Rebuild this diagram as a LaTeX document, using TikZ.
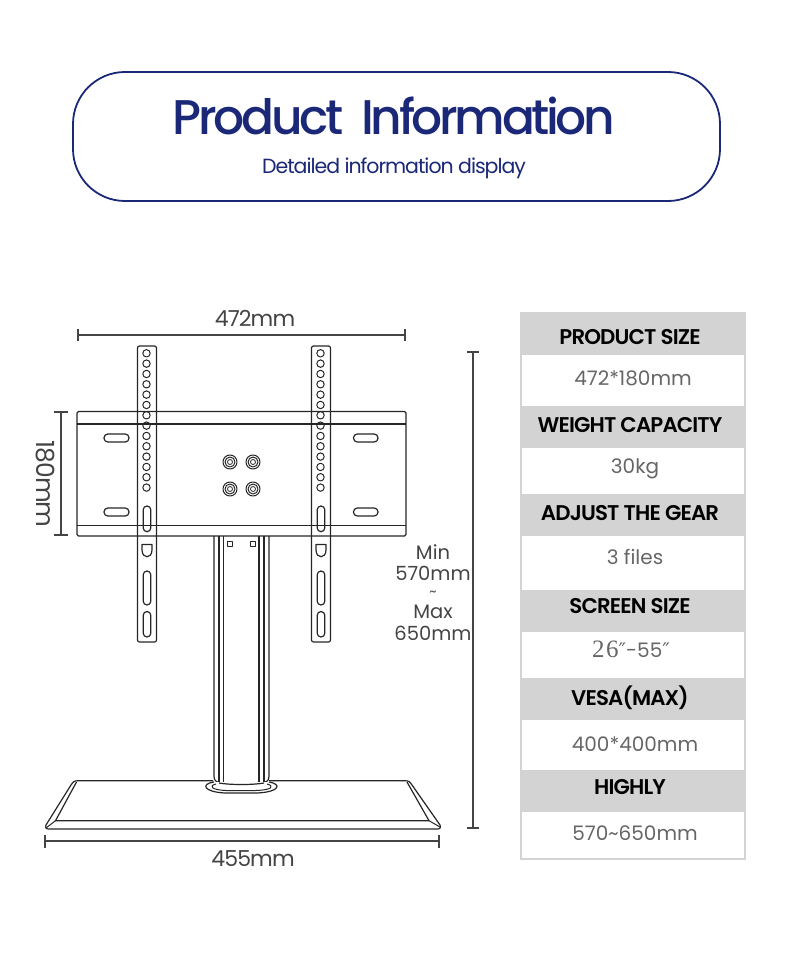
\documentclass[tikz,border=0pt]{standalone}
\usepackage{fontspec}
\setmainfont{Poppins}
\newfontfamily\mediumfont{Poppins Medium}
\newfontfamily\semiboldfont{Poppins SemiBold}
\newfontfamily\serifdigits{Liberation Serif}
\newfontfamily\primefont{DejaVu Sans}
\definecolor{navyblue}{HTML}{1B2878}
\definecolor{dimgray}{HTML}{444444}
\definecolor{valuegray}{HTML}{666666}
\definecolor{bandgray}{HTML}{D3D3D3}
\tikzset{
  part/.style={draw=black!85, line width=1.2pt, line join=round},
  dimline/.style={draw=dimgray, line width=1.8pt},
  dimtext/.style={text=dimgray, inner sep=0pt, font=\fontsize{22}{22}\selectfont\addfontfeatures{LetterSpace=-4}},
  sidetext/.style={text=dimgray, inner sep=0pt, font=\fontsize{19.5}{19.5}\selectfont},
  headtext/.style={text=black, inner sep=0pt, font=\semiboldfont\fontsize{21.3}{21.3}\selectfont\addfontfeatures{LetterSpace=-4}},
  valuetext/.style={text=valuegray, inner sep=0pt, font=\fontsize{20}{20}\selectfont},
}
\begin{document}
\begin{tikzpicture}[x=1pt, y=-1pt]
    \useasboundingbox (0,0) rectangle (784,960);

    % Title banner
    \draw[draw=navyblue, line width=1.8pt, rounded corners=52] (73,72) rectangle (720,201);
    \node[text=navyblue, inner sep=0pt, font=\mediumfont\fontsize{48.7}{48.7}\selectfont\addfontfeatures{LetterSpace=-7}] (title) at (394,116) {Product\hspace{9pt} Information};
    \node[text=navyblue, inner sep=0pt, font=\fontsize{20.5}{20.5}\selectfont\addfontfeatures{LetterSpace=-5}] (subtitle) at (394,168) {Detailed information display};

    % Width of the cross bar
    \coordinate (widthL) at (78,335);
    \coordinate (widthR) at (405,335);
    \draw[dimline] (widthL) -- (widthR);
    \draw[dimline] (78,329) -- (78,341);
    \draw[dimline] (405,329) -- (405,341);
    \node[dimtext] (widthtext) at (255,318) {472mm};

    % Height of the cross bar
    \coordinate (barT) at (61,412);
    \coordinate (barB) at (61,535);
    \draw[dimline] (barT) -- (barB);
    \draw[dimline] (54,412) -- (68,412);
    \draw[dimline] (54,535) -- (68,535);
    \node[dimtext, rotate=-90, font=\fontsize{25}{25}\selectfont\addfontfeatures{LetterSpace=-4}] (bartext) at (45,484) {180mm};

    % Cross bar
    \draw[part, rounded corners=1.5] (77,411.5) rectangle (406,536);
    \draw[part] (77,424) -- (406,424);
    \draw[part] (77,525.5) -- (406,525.5);

    % Slots in the cross bar
    \draw[part, rounded corners=3.8] (104,434) rectangle (129,442);
    \draw[part, rounded corners=3.8] (104,508) rectangle (129,516);
    \draw[part, rounded corners=3.8] (353.5,434) rectangle (378,442);
    \draw[part, rounded corners=3.8] (353.5,508) rectangle (378,516);

    % Bolts in the middle
    \foreach \bx/\by in {230/462, 253/462, 230/489, 253/489} {
        \draw[part, line width=1pt] (\bx,\by) circle (7);
        \draw[part, line width=1pt] (\bx,\by) circle (5);
        \draw[part, line width=.8pt] (\bx,\by) circle (2.5);
    }

    % Two upright brackets
    \foreach \cx in {147,321} {
        \draw[part, rounded corners=2] (\cx-9.5,346) rectangle (\cx+9.5,642);
        \foreach \n in {0,...,13}
            \draw[part, line width=1pt] (\cx-.5,353.3+10.33*\n) circle (3.7);
        \draw[part, rounded corners=3.8] (\cx-3.8,506) rectangle (\cx+3.8,531.7);
        \draw[part] (\cx-5,544.5) -- (\cx+5,544.5) -- (\cx+5,550) .. controls (\cx+5,555) and (\cx+2,556.7) .. (\cx,556.7) .. controls (\cx-2,556.7) and (\cx-5,555) .. (\cx-5,550) -- cycle;
        \draw[part, rounded corners=3.8] (\cx-3.8,571) rectangle (\cx+3.8,605);
        \draw[part, rounded corners=3.8] (\cx-3.8,611.5) rectangle (\cx+3.8,637);
    }

    % Column
    \draw[part] (214,536) -- (214,776) .. controls (214,780) and (216,782) .. (219,783);
    \draw[part] (219,536) -- (219,783);
    \draw[part] (223.5,536) -- (223.5,784);
    \draw[part] (259,536) -- (259,784);
    \draw[part] (264,536) -- (264,783);
    \draw[part] (269,536) -- (269,776) .. controls (269,780) and (267,782) .. (264,783);
    \draw[part] (219,783) .. controls (230,785) and (253,785) .. (264,783);
    \draw[part, line width=1pt] (227.5,541.5) rectangle (232.5,546.5);
    \draw[part, line width=1pt] (250.5,541.5) rectangle (255.5,546.5);

    % Base plate
    \draw[part] (213,780.7) -- (78,780.7) .. controls (74,780.7) and (73,782) .. (71,785) -- (46,825) .. controls (45,828) and (46,829) .. (49,829) -- (437,829) .. controls (440,829) and (441,828) .. (440,825) -- (412,785) .. controls (410,782) and (409,780.7) .. (405,780.7) -- (269,780.7);
    \draw[part] (76.5,782) -- (55.5,820.7) -- (429,820.7) -- (407,782);
    \draw[part, line width=1pt] (46,828) -- (55.5,820.7);
    \draw[part, line width=1pt] (440,827) -- (429,820.7);

    % Collar round the column
    \draw[part, fill=white] (214,782) .. controls (200,784) and (204,792) .. (225,793) -- (257,793) .. controls (280,792) and (282,784) .. (269,782);
    \draw[part, line width=1pt] (216,784) .. controls (208,786) and (212,790) .. (226,790.5) -- (256,790.5) .. controls (272,790) and (275,786) .. (267,784);
    \draw[part] (219,783) .. controls (230,785) and (253,785) .. (264,783);

    % Overall width of the base
    \coordinate (baseL) at (45,841);
    \coordinate (baseR) at (439,841);
    \draw[dimline] (baseL) -- (baseR);
    \draw[dimline] (45,834.5) -- (45,847.5);
    \draw[dimline] (439,834.5) -- (439,847.5);
    \node[dimtext] (basetext) at (253,859) {455mm};

    % Overall height
    \coordinate (heightT) at (473,352);
    \coordinate (heightB) at (473,828);
    \draw[dimline] (heightT) -- (heightB);
    \draw[dimline] (467,352) -- (479,352);
    \draw[dimline] (467,828) -- (479,828);
    \node[sidetext] (minword) at (433,552) {Min};
    \node[sidetext] (minvalue) at (433,573) {570mm};
    \node[sidetext] (tilde) at (433,594) {\fontsize{14}{14}\selectfont\textasciitilde};
    \node[sidetext] (maxword) at (433,612) {Max};
    \node[sidetext] (maxvalue) at (433,633) {650mm};

    % Table frame and grey bands
    \draw[draw=bandgray, line width=2pt] (520.5,313) rectangle (745,859);
    \fill[bandgray] (519.5,312) rectangle (746,355);
    \fill[bandgray] (519.5,406) rectangle (746,448);
    \fill[bandgray] (519.5,494) rectangle (746,536);
    \fill[bandgray] (519.5,590) rectangle (746,632);
    \fill[bandgray] (519.5,678) rectangle (746,720);
    \fill[bandgray] (519.5,770) rectangle (746,812);

    % Table rows
    \node[headtext] (sizehead) at (630,337) {PRODUCT SIZE};
    \node[valuetext] (sizevalue) at (633,378) {472*180mm};
    \node[headtext] (weighthead) at (630,425) {WEIGHT CAPACITY};
    \node[valuetext] (weightvalue) at (635,469) {30kg};
    \node[headtext] (gearhead) at (630,513) {ADJUST THE GEAR};
    \node[valuetext] (gearvalue) at (635,557) {3 files};
    \node[headtext] (screenhead) at (630,606) {SCREEN SIZE};
    \node[valuetext] (screenvalue) at (631,649) {{\serifdigits\fontsize{25}{25}\selectfont\addfontfeatures{LetterSpace=6}26}{\primefont\fontsize{20}{20}\selectfont ″}-55{\primefont\fontsize{20}{20}\selectfont ″}};
    \node[headtext] (vesahead) at (630,698) {VESA(MAX)};
    \node[valuetext] (vesavalue) at (635,744) {400*400mm};
    \node[headtext] (highhead) at (630,787) {HIGHLY};
    \node[valuetext] (highvalue) at (635,833) {570\textasciitilde650mm};

\end{tikzpicture}
\end{document}
